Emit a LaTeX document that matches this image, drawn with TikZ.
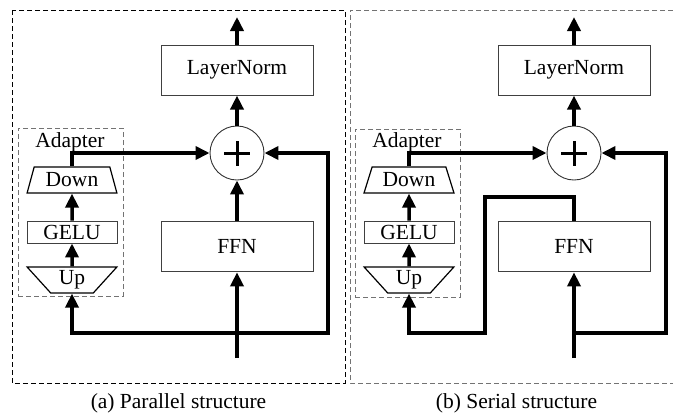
\documentclass[tikz,border=0pt]{standalone}
\usepackage{fontspec}
\setmainfont{Liberation Serif}
\usetikzlibrary{shapes.geometric,arrows.meta,positioning}

\begin{document}
\begin{tikzpicture}[
    x=1pt, y=-1pt,
    font=\fontsize{21.5}{24}\selectfont,
    block/.style={draw=black!75, line width=0.9pt, minimum width=152pt, minimum height=50pt, inner sep=1pt},
    smallblock/.style={draw=black!75, line width=0.9pt, minimum width=90pt, minimum height=22pt, inner sep=0pt},
    trap/.style={trapezium, draw=black, line width=1.2pt, trapezium stretches=true, minimum width=90pt, minimum height=26pt, inner sep=0pt},
    sumnode/.style={circle, draw=black!80, line width=0.9pt, minimum size=54pt, inner sep=0pt,
        path picture={
            \draw[black, line width=3pt] ([xshift=-13pt]path picture bounding box.center) -- ([xshift=13pt]path picture bounding box.center);
            \draw[black, line width=3pt] ([yshift=-12.5pt]path picture bounding box.center) -- ([yshift=12.5pt]path picture bounding box.center);
        }},
    adapterbox/.style={draw=black!55, line width=0.9pt, dash pattern=on 5pt off 3pt, minimum width=105pt, minimum height=168pt},
    frame/.style={line width=0.9pt, dash pattern=on 5pt off 3pt},
    arrow/.style={-{Triangle[length=14pt,width=13pt]}, line width=3.5pt}
]
    \useasboundingbox (0,0) rectangle (673,416);

    % (a) parallel
    \draw[frame, black] (12,10) rectangle (345,383);
    \node[sumnode] (add1) at (237,153) {};
    \node[block, above=30pt of add1] (ln1) {LayerNorm};
    \node[block, below=41pt of add1] (ffn1) {FFN};
    \node[adapterbox] (adp1) at (70.5,212) {};
    \node (adptext1) at (70,142) {Adapter};
    \node[trap, trapezium angle=71] (down1) at (72,180) {Down};
    \node[smallblock] (gelu1) at (72,232) {GELU};
    \node[trap, trapezium angle=52, shape border rotate=180] (up1) at (72,280) {Up};
    \coordinate (in1) at (237,358);
    \coordinate (out1) at (237,17);
    \coordinate (split1) at (237,333);
    \coordinate (loop1) at (328,333);

    \draw[arrow] (in1) -- (ffn1);
    \draw[arrow] (ffn1) -- (add1);
    \draw[arrow] (add1) -- (ln1);
    \draw[arrow] (ln1) -- (out1);
    \draw[arrow] (split1) -| (up1.south);
    \draw[arrow] (up1.north) -- (gelu1.south);
    \draw[arrow] (gelu1.north) -- (down1.south);
    \draw[arrow] (down1.north) |- (add1.west);
    \draw[arrow] (split1) -- (loop1) |- (add1.east);
    \node (capa) at (178.5,403) {(a) Parallel structure};

    % (b) serial
    \draw[frame, black!55] (673,10) -| (350,383) -- (673,383);
    \begin{scope}[xshift=337pt]
        \node[sumnode] (add2) at (237,153) {};
        \node[block, above=30pt of add2] (ln2) {LayerNorm};
        \node[block, below=41pt of add2] (ffn2) {FFN};
        \node[adapterbox] (adp2) at (70.5,213) {};
        \node (adptext2) at (70,142) {Adapter};
        \node[trap, trapezium angle=68] (down2) at (72,180) {Down};
        \node[smallblock] (gelu2) at (72,232) {GELU};
        \node[trap, trapezium angle=52, shape border rotate=180] (up2) at (72,280) {Up};
        \coordinate (in2) at (237,358);
        \coordinate (out2) at (237,17);
        \coordinate (split2) at (237,333);
        \coordinate (loop2) at (329,333);
        \coordinate (turn2) at (148,197);
        \coordinate (back2) at (148,333);

        \draw[arrow] (in2) -- (ffn2);
        \draw[arrow] (add2) -- (ln2);
        \draw[arrow] (ln2) -- (out2);
        \draw[arrow] (ffn2.north) |- (turn2) -- (back2) -| (up2.south);
        \draw[arrow] (up2.north) -- (gelu2.south);
        \draw[arrow] (gelu2.north) -- (down2.south);
        \draw[arrow] (down2.north) |- (add2.west);
        \draw[arrow] (split2) -- (loop2) |- (add2.east);
        \node (capb) at (179.5,403) {(b) Serial structure};
    \end{scope}
\end{tikzpicture}
\end{document}
